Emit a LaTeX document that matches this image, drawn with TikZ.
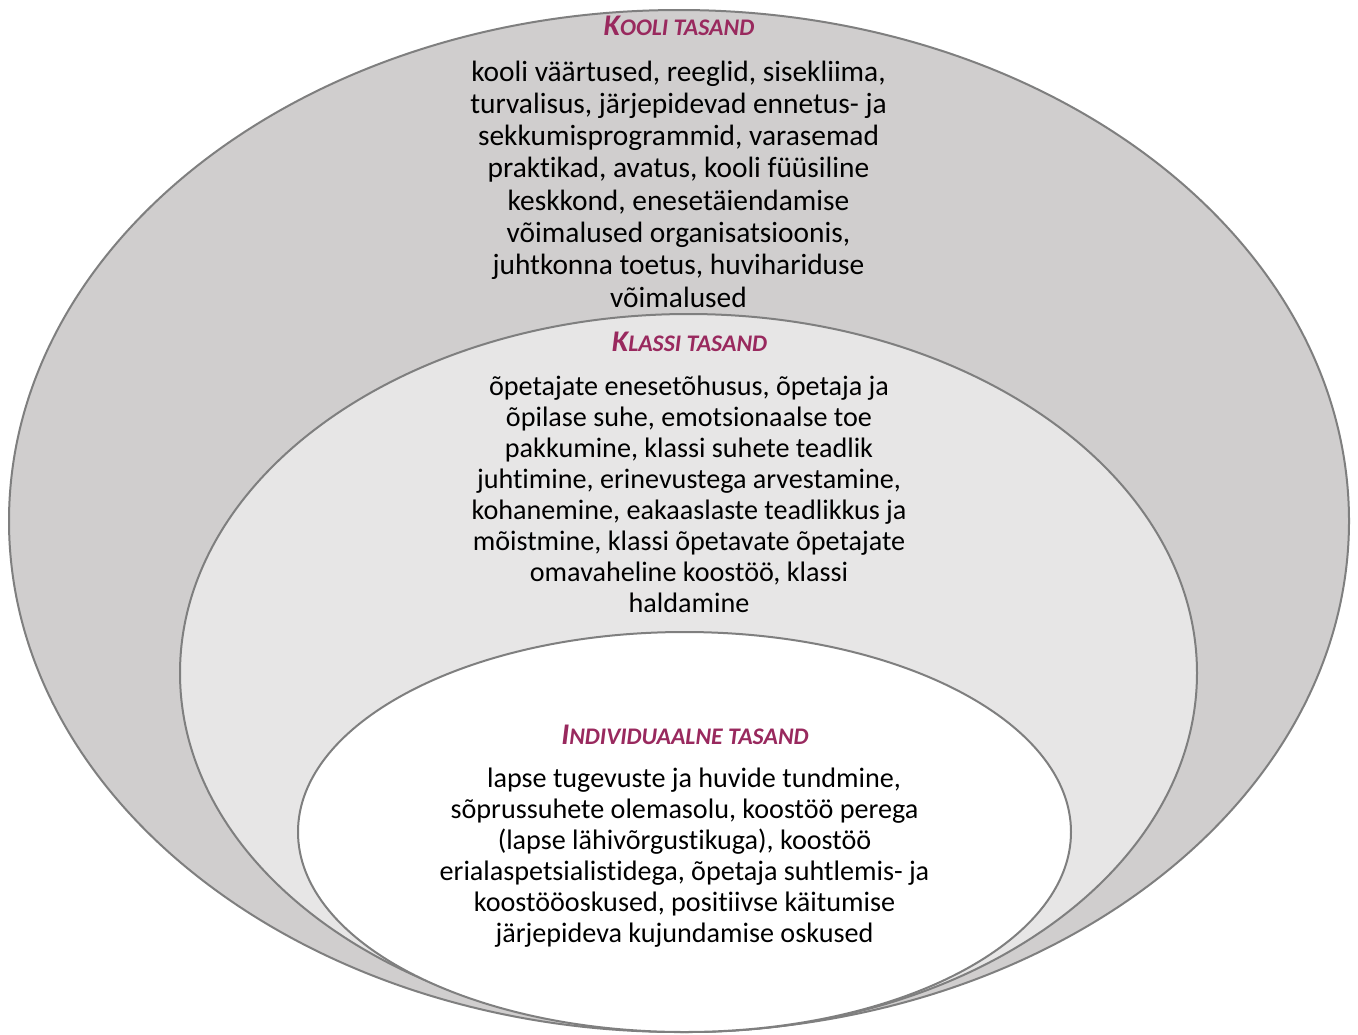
\documentclass[tikz,border=0pt]{standalone}
\usepackage{fontspec}
\setmainfont{Carlito}[Ligatures={NoCommon}]
\definecolor{outerfill}{RGB}{208,206,206}
\definecolor{midfill}{RGB}{231,230,230}
\definecolor{edgegray}{RGB}{127,127,127}
\definecolor{titlecol}{RGB}{153,41,94}
\newcommand{\fakesc}[2]{{\fontsize{30}{30}\selectfont\bfseries\itshape\color{titlecol}#1{\fontsize{23.8}{23.8}\selectfont #2}}}
\begin{document}
\begin{tikzpicture}[x=1pt,y=-1pt,
  ring/.style={draw=edgegray,line width=2pt},
  bodytext/.style={align=center,inner sep=0pt,font=\fontsize{29.4}{32.3}\selectfont},
  bodytextb/.style={align=center,inner sep=0pt,font=\fontsize{28.15}{31}\selectfont},
  ttl/.style={inner sep=0pt,anchor=base}]
\useasboundingbox (0,0) rectangle (1358,1034);
\fill[white] (0,0) rectangle (1358,1034);
\draw[ring,fill=outerfill] (679,521) ellipse [x radius=670, y radius=511];
\draw[ring,fill=midfill] (688.5,673) ellipse [x radius=508.5, y radius=359];
\draw[ring,fill=white] (684.5,832) ellipse [x radius=386.5, y radius=200];

\node[ttl] (t1) at (679,35) {\fakesc{K}{OOLI TASAND}};
\node[bodytext] (b1) at (678.5,184) {kooli väärtused, reeglid, sisekliima,\\
turvalisus, järjepidevad ennetus- ja\\
sekkumisprogrammid, varasemad\\
praktikad, avatus, kooli füüsiline\\
keskkond, enesetäiendamise\\
võimalused organisatsioonis,\\
juhtkonna toetus, huvihariduse\\
võimalused};

\node[ttl] (t2) at (689.5,351) {\fakesc{K}{LASSI TASAND}};
\node[bodytextb] (b2) at (689,494) {õpetajate enesetõhusus, õpetaja ja\\
õpilase suhe, emotsionaalse toe\\
pakkumine, klassi suhete teadlik\\
juhtimine, erinevustega arvestamine,\\
kohanemine, eakaaslaste teadlikkus ja\\
mõistmine, klassi õpetavate õpetajate\\
omavaheline koostöö, klassi\\
haldamine};

\node[ttl] (t3) at (685,744) {\fakesc{I}{NDIVIDUAALNE TASAND}};
\node[bodytextb] (b3) at (684.5,858) {\hspace*{19pt}lapse tugevuste ja huvide tundmine,\\
sõprussuhete olemasolu, koostöö perega\\
(lapse lähivõrgustikuga), koostöö\\
erialaspetsialistidega, õpetaja suhtlemis- ja\\
koostööoskused, positiivse käitumise\\
järjepideva kujundamise oskused};
\end{tikzpicture}
\end{document}
